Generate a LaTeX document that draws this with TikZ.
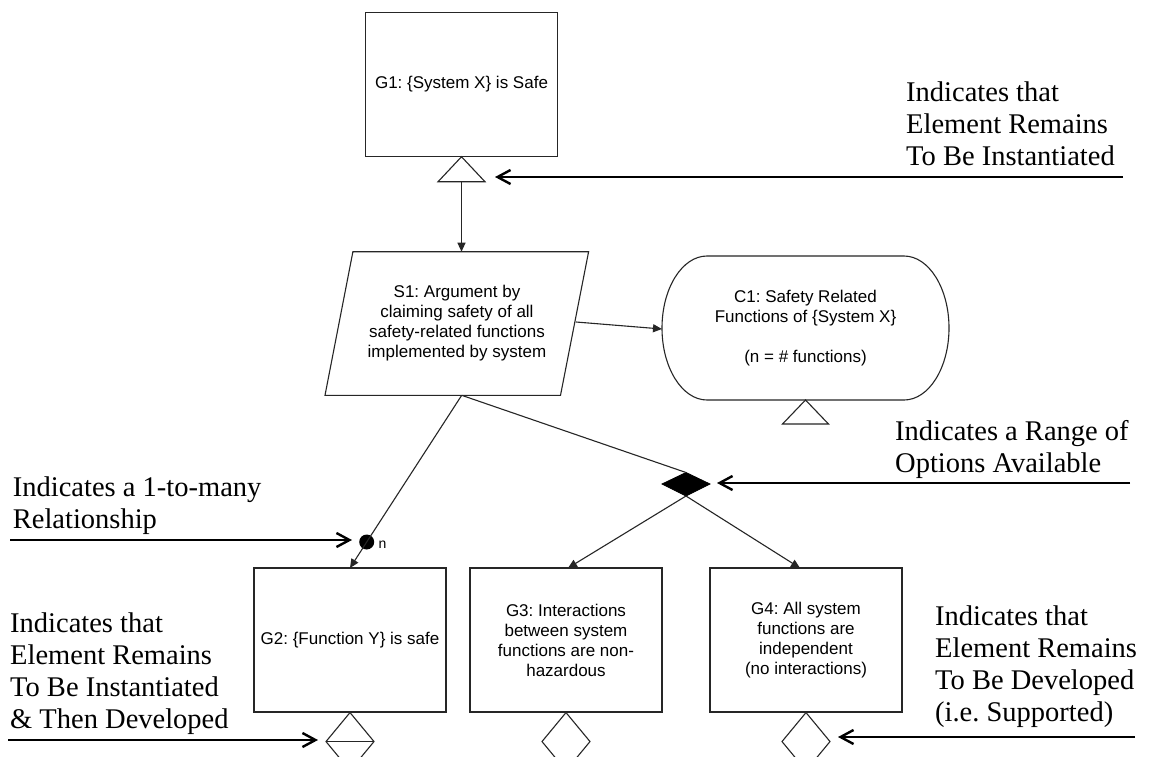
\documentclass[tikz,border=0pt]{standalone}
\usepackage{fontspec}
\setmainfont{Liberation Serif}
\newfontfamily\gsnfont{Liberation Sans}
\usetikzlibrary{arrows.meta,calc}
\frenchspacing

\begin{document}
\begin{tikzpicture}[x=1pt,y=-1pt,
  shapeline/.style={draw=black!85, line width=1.1pt},
  goal/.style={shapeline, rectangle, inner sep=0pt, minimum width=192pt,
    minimum height=144pt, align=center, font=\gsnfont\fontsize{17}{20}\selectfont},
  gsntext/.style={inner sep=0pt, align=center, font=\gsnfont\fontsize{17}{20}\selectfont},
  link/.style={draw=black!85, line width=1.1pt, -{Triangle[length=9pt,width=8pt]}},
  plainlink/.style={draw=black!85, line width=1.1pt},
  % multi-line notes: the base anchor sits on the last line
  note/.style={inner sep=0pt, anchor=base west, align=left,
    font=\fontsize{28.5}{32}\selectfont},
  pointer/.style={line width=2.4pt,
    -{Straight Barb[length=13pt,width=14pt,line width=2.4pt]}},
]
% canvas
\fill[white] (0,0) rectangle (1149,756);
\useasboundingbox (0,0) rectangle (1149,756);
\clip (0,0) rectangle (1149,756);

% ---------- top goal ----------
\node[goal] (G1) at (461.5,84.2) {G1: \{System X\} is Safe};
\coordinate (G1t) at ($(G1.south)+(0,25)$);
\draw[shapeline, fill=white] (G1.south) -- ++(23.5,25) -- ++(-47,0) -- cycle;

% ---------- strategy ----------
\coordinate (S1tl) at (352.9,251.7);
\coordinate (S1tr) at (588.6,251.7);
\coordinate (S1br) at (560.5,395.3);
\coordinate (S1bl) at (325,395.3);
\draw[shapeline] (S1tl) -- (S1tr) -- (S1br) -- (S1bl) -- cycle;
\node[gsntext] (S1) at (457,323.5)
  {S1: Argument by\\claiming safety of all\\safety-related functions\\implemented by system};
\coordinate (S1in) at (461.5,251.7);
\coordinate (S1out) at (461.7,395.3);
\coordinate (S1side) at (576,322);

% ---------- context ----------
\draw[shapeline] (707,256) -- (904,256)
  arc[start angle=-90, end angle=90, x radius=45, y radius=72]
  -- (707,400)
  arc[start angle=90, end angle=270, x radius=45, y radius=72] -- cycle;
\node[gsntext] (C1) at (805.5,328)
  {C1: Safety Related\\Functions of \{System X\}\\\mbox{}\\(n = \# functions)};
\coordinate (C1in) at (662,329);
\coordinate (C1b) at (805.5,400);
\draw[shapeline, fill=white] (C1b) -- ++(23,24) -- ++(-46,0) -- cycle;

% ---------- option (choice) ----------
\coordinate (optT) at (686,472.5);
\coordinate (optB) at (686,496);
\draw[fill=black, draw=black, line width=0.8pt]
  (optT) -- (710,484) -- (optB) -- (662,484) -- cycle;

% ---------- multiplicity dot ----------
\node[circle, fill=black, inner sep=0pt, minimum size=15pt] (dot) at (366.7,542) {};
\node[inner sep=0pt, anchor=base west, font=\gsnfont\fontsize{14}{16}\selectfont]
  (nlab) at (378.5,548.5) {n};

% ---------- sub-goals ----------
\node[goal] (G2) at (350,640) {G2: \{Function Y\} is safe};
\node[goal] (G3) at (566,640) {G3: Interactions\\between system\\functions are non-\\hazardous};
\node[goal] (G4) at (806,640) {G4: All system\\functions are\\independent\\(no interactions)};
\coordinate (G2in) at (350,568);
\coordinate (G3in) at (568,568);
\coordinate (G4in) at (800,568);

% undeveloped / uninstantiated markers below the sub-goals
\draw[shapeline, fill=white] (G2.south) -- ++(24,29) -- ++(-24,29) -- ++(-24,-29) -- cycle;
\draw[shapeline] ($(G2.south)+(-24,29)$) -- ++(48,0);
\draw[shapeline, fill=white] (G3.south) -- ++(24,29) -- ++(-24,29) -- ++(-24,-29) -- cycle;
\draw[shapeline, fill=white] (G4.south) -- ++(24,29) -- ++(-24,29) -- ++(-24,-29) -- cycle;

% ---------- connectors ----------
\draw[link] (G1t) -- (S1in);
\draw[link] (S1side) -- (C1in);
\draw[plainlink] (S1out) -- (dot.center);
\draw[link] (dot.center) -- (G2in);
\draw[plainlink] (S1out) -- (optT);
\draw[link] (optB) -- (G3in);
\draw[link] (optB) -- (G4in);

% ---------- explanatory notes ----------
\node[note] (noteA) at (906,165) {Indicates that\\Element Remains\\To Be Instantiated};
\coordinate (noteAs) at (1123,177);
\coordinate (noteAe) at (495,177);
\draw[pointer] (noteAs) -- (noteAe);

\node[note] (noteB) at (895,472) {Indicates a Range of\\Options Available};
\coordinate (noteBs) at (1130,483);
\coordinate (noteBe) at (717,483);
\draw[pointer] (noteBs) -- (noteBe);

\node[note] (noteC) at (12.7,528) {Indicates a 1-to-many\\Relationship};
\coordinate (noteCs) at (10,540);
\coordinate (noteCe) at (352,540);
\draw[pointer] (noteCs) -- (noteCe);

\node[note] (noteD) at (10,728) {Indicates that\\Element Remains\\To Be Instantiated\\\& Then Developed};
\coordinate (noteDs) at (8,740);
\coordinate (noteDe) at (318,740);
\draw[pointer] (noteDs) -- (noteDe);

\node[note] (noteE) at (935,721) {Indicates that\\Element Remains\\To Be Developed\\(i.e. Supported)};
\coordinate (noteEs) at (1135,737);
\coordinate (noteEe) at (838,737);
\draw[pointer] (noteEs) -- (noteEe);
\end{tikzpicture}
\end{document}
